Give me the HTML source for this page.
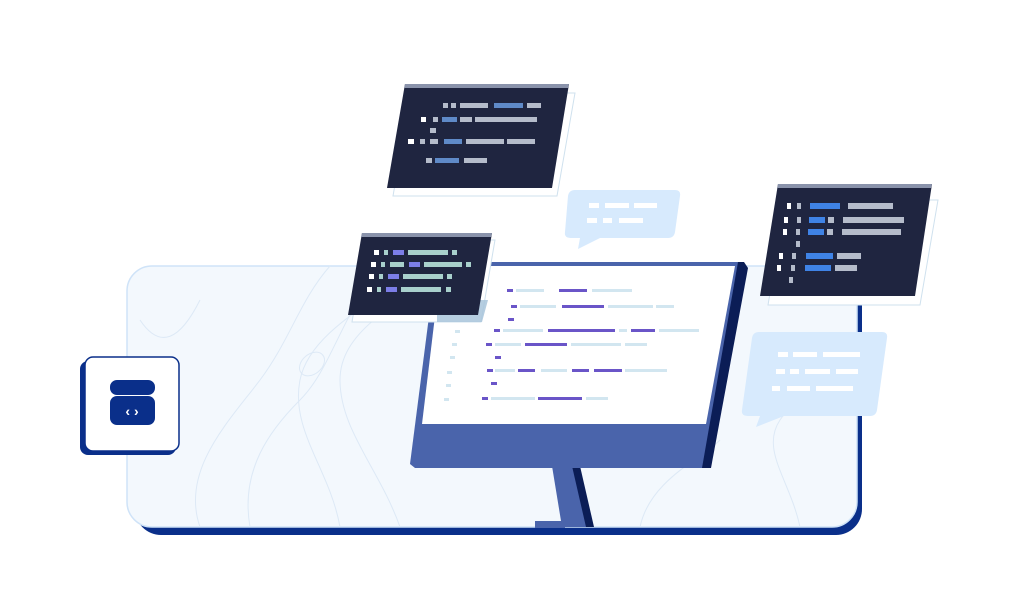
<!DOCTYPE html>
<html><head><style>html,body{margin:0;padding:0;background:#fff}svg{display:block}</style></head>
<body>
<svg width="1020" height="614" viewBox="0 0 1020 614" xmlns="http://www.w3.org/2000/svg">
<rect x="135" y="274" width="727" height="261" rx="26" fill="#0a2f8a"/>
<rect x="127" y="266" width="730" height="261" rx="25" fill="#f3f8fd" stroke="#cfe3f8" stroke-width="1.5"/>
<g fill="none" stroke="#dde9f6" stroke-width="1">
<path d="M200 527 C180 470 230 420 260 380 C290 340 300 300 330 266"/>
<path d="M250 527 C240 470 270 430 300 400 C330 370 340 320 380 266"/>
<path d="M340 527 C330 470 290 430 300 380 C310 330 380 300 420 266"/>
<path d="M400 527 C380 470 340 430 340 380 C340 330 400 300 460 266"/>
<ellipse cx="312" cy="364" rx="14" ry="10" transform="rotate(-40 312 364)"/>
<path d="M800 527 C790 480 760 450 780 420 C800 390 830 360 857 340"/>
<path d="M640 527 C650 480 700 460 720 440"/>
<path d="M140 320 C160 350 180 340 200 300"/>
</g>
<rect x="80" y="361" width="96" height="94" rx="8" fill="#0a2f8a"/>
<rect x="85" y="357" width="94" height="94" rx="8" fill="#fff" stroke="#0a2f8a" stroke-width="1.5"/>
<rect x="110" y="380" width="45" height="15" rx="7" fill="#0a2f8a"/>
<rect x="110" y="396" width="45" height="29" rx="7" fill="#0a2f8a"/>
<text x="132" y="416" font-family="Liberation Sans, sans-serif" font-size="14" font-weight="bold" fill="#fff" text-anchor="middle">‹ ›</text>
<polygon points="552,466 576,466 590,527 562,527" fill="#4a64ab"/>
<polygon points="572,466 580,466 594,527 586,527" fill="#0b1d56"/>
<rect x="535" y="521" width="30" height="7" fill="#4a64ab"/>
<polygon points="436,262 738,262 744,262 708,468 415,468 410,464" fill="#4a64ab"/>
<polygon points="738,262 744,262 748,268 711,468 702,468" fill="#0b1d56"/>
<polygon points="441,266 735,266 706,424 422,424" fill="#fff"/>
<g fill="#6a55c8">
<rect x="507" y="289" width="6" height="3"/><rect x="559" y="289" width="28" height="3"/>
<rect x="511" y="305" width="6" height="3"/><rect x="562" y="305" width="42" height="3"/>
<rect x="508" y="318" width="6" height="3"/>
<rect x="494" y="329" width="6" height="3"/><rect x="548" y="329" width="67" height="3"/><rect x="631" y="329" width="24" height="3"/>
<rect x="486" y="343" width="6" height="3"/><rect x="525" y="343" width="42" height="3"/>
<rect x="495" y="356" width="6" height="3"/>
<rect x="487" y="369" width="6" height="3"/><rect x="518" y="369" width="17" height="3"/><rect x="572" y="369" width="17" height="3"/><rect x="594" y="369" width="28" height="3"/>
<rect x="491" y="382" width="6" height="3"/>
<rect x="482" y="397" width="6" height="3"/><rect x="538" y="397" width="44" height="3"/>
</g>
<g fill="#d2e6f0">
<rect x="516" y="289" width="28" height="3"/><rect x="592" y="289" width="40" height="3"/>
<rect x="520" y="305" width="36" height="3"/><rect x="608" y="305" width="45" height="3"/><rect x="656" y="305" width="18" height="3"/>
<rect x="503" y="329" width="40" height="3"/><rect x="619" y="329" width="8" height="3"/><rect x="659" y="329" width="40" height="3"/>
<rect x="495" y="343" width="26" height="3"/><rect x="571" y="343" width="50" height="3"/><rect x="625" y="343" width="22" height="3"/>
<rect x="495" y="369" width="20" height="3"/><rect x="541" y="369" width="26" height="3"/><rect x="625" y="369" width="42" height="3"/>
<rect x="491" y="397" width="44" height="3"/><rect x="586" y="397" width="22" height="3"/>
<rect x="455" y="330" width="5" height="3"/><rect x="452" y="343" width="5" height="3"/><rect x="450" y="356" width="5" height="3"/><rect x="447" y="371" width="5" height="3"/><rect x="446" y="384" width="5" height="3"/><rect x="444" y="398" width="5" height="3"/>
</g>
<polygon points="411,93 575,93 557,196 393,196" fill="#fff" stroke="#cfe1ee" stroke-width="1"/>
<polygon points="405,84 569,84 552,188 387,188" fill="#1f2540"/>
<polygon points="405,84 569,84 568,88 404,88" fill="#8a93ab"/>
<g fill="#b5bccb"><rect x="443" y="103" width="5" height="5"/><rect x="451" y="103" width="5" height="5"/><rect x="460" y="103" width="28" height="5"/><rect x="527" y="103" width="14" height="5"/>
<rect x="433" y="117" width="5" height="5"/><rect x="460" y="117" width="12" height="5"/><rect x="475" y="117" width="62" height="5"/><rect x="430" y="128" width="6" height="5"/>
<rect x="420" y="139" width="5" height="5"/><rect x="430" y="139" width="8" height="5"/><rect x="466" y="139" width="38" height="5"/><rect x="507" y="139" width="28" height="5"/>
<rect x="426" y="158" width="6" height="5"/><rect x="464" y="158" width="23" height="5"/></g>
<g fill="#5f8ac8"><rect x="494" y="103" width="29" height="5"/><rect x="442" y="117" width="15" height="5"/><rect x="444" y="139" width="18" height="5"/><rect x="435" y="158" width="24" height="5"/></g>
<g fill="#fff"><rect x="421" y="117" width="5" height="5"/><rect x="408" y="139" width="6" height="5"/></g>
<path d="M572 190 H675 Q681 190 680 196 L675 232 Q674 238 668 238 H600 L578 249 L580 238 H571 Q564 238 565 232 L568 196 Q569 190 575 190 Z" fill="#d7eafd"/>
<g fill="#fff"><rect x="589" y="203" width="10" height="5"/><rect x="605" y="203" width="24" height="5"/><rect x="634" y="203" width="23" height="5"/><rect x="587" y="218" width="10" height="5"/><rect x="603" y="218" width="9" height="5"/><rect x="619" y="218" width="24" height="5"/></g>
<polygon points="366,240 495,240 481,322 352,322" fill="#fff" stroke="#cfe1ee" stroke-width="1"/>
<polygon points="437,300 488,300 482,322 437,322" fill="#a8c4da" opacity="0.85"/>
<polygon points="362,233 492,233 478,315 348,315" fill="#1f2540"/>
<polygon points="362,233 492,233 491,237 361,237" fill="#8a93ab"/>
<g fill="#fff"><rect x="374" y="250" width="5" height="5"/><rect x="371" y="262" width="5" height="5"/><rect x="369" y="274" width="5" height="5"/><rect x="367" y="287" width="5" height="5"/></g>
<g fill="#a8d0cc"><rect x="384" y="250" width="4" height="5"/><rect x="408" y="250" width="40" height="5"/><rect x="452" y="250" width="5" height="5"/>
<rect x="381" y="262" width="4" height="5"/><rect x="390" y="262" width="14" height="5"/><rect x="424" y="262" width="38" height="5"/><rect x="466" y="262" width="5" height="5"/>
<rect x="379" y="274" width="4" height="5"/><rect x="403" y="274" width="40" height="5"/><rect x="447" y="274" width="5" height="5"/>
<rect x="377" y="287" width="4" height="5"/><rect x="401" y="287" width="40" height="5"/><rect x="446" y="287" width="5" height="5"/></g>
<g fill="#7c7ee8"><rect x="393" y="250" width="11" height="5"/><rect x="409" y="262" width="11" height="5"/><rect x="388" y="274" width="11" height="5"/><rect x="386" y="287" width="11" height="5"/></g>
<polygon points="786,200 938,200 920,305 768,305" fill="#fff" stroke="#cfe1ee" stroke-width="1"/>
<polygon points="778,184 932,184 915,296 760,296" fill="#1f2540"/>
<polygon points="778,184 932,184 931,188 777,188" fill="#8a93ab"/>
<g fill="#fff"><rect x="787" y="203" width="4" height="6"/><rect x="784" y="217" width="4" height="6"/><rect x="783" y="229" width="4" height="6"/><rect x="779" y="253" width="4" height="6"/><rect x="777" y="265" width="4" height="6"/></g>
<g fill="#b5bccb"><rect x="797" y="203" width="4" height="6"/><rect x="797" y="217" width="4" height="6"/><rect x="828" y="217" width="6" height="6"/>
<rect x="796" y="229" width="4" height="6"/><rect x="827" y="229" width="6" height="6"/><rect x="796" y="241" width="4" height="6"/>
<rect x="792" y="253" width="4" height="6"/><rect x="791" y="265" width="4" height="6"/><rect x="789" y="277" width="4" height="6"/></g>
<g fill="#b5bccb"><rect x="848" y="203" width="45" height="6"/><rect x="843" y="217" width="61" height="6"/><rect x="842" y="229" width="59" height="6"/><rect x="837" y="253" width="24" height="6"/><rect x="835" y="265" width="22" height="6"/></g>
<g fill="#3f83e6"><rect x="810" y="203" width="30" height="6"/><rect x="809" y="217" width="16" height="6"/><rect x="808" y="229" width="16" height="6"/><rect x="806" y="253" width="27" height="6"/><rect x="805" y="265" width="26" height="6"/></g>
<path d="M758 332 H882 Q888 332 887 338 L877 410 Q876 416 870 416 H784 L756 427 L760 416 H748 Q741 416 742 410 L752 338 Q753 332 759 332 Z" fill="#d7eafd"/>
<g fill="#fff"><rect x="778" y="352" width="10" height="5"/><rect x="793" y="352" width="24" height="5"/><rect x="823" y="352" width="37" height="5"/><rect x="776" y="369" width="9" height="5"/><rect x="790" y="369" width="9" height="5"/><rect x="805" y="369" width="25" height="5"/><rect x="836" y="369" width="22" height="5"/><rect x="772" y="386" width="8" height="5"/><rect x="787" y="386" width="23" height="5"/><rect x="816" y="386" width="37" height="5"/></g>
</svg>
</body></html>
